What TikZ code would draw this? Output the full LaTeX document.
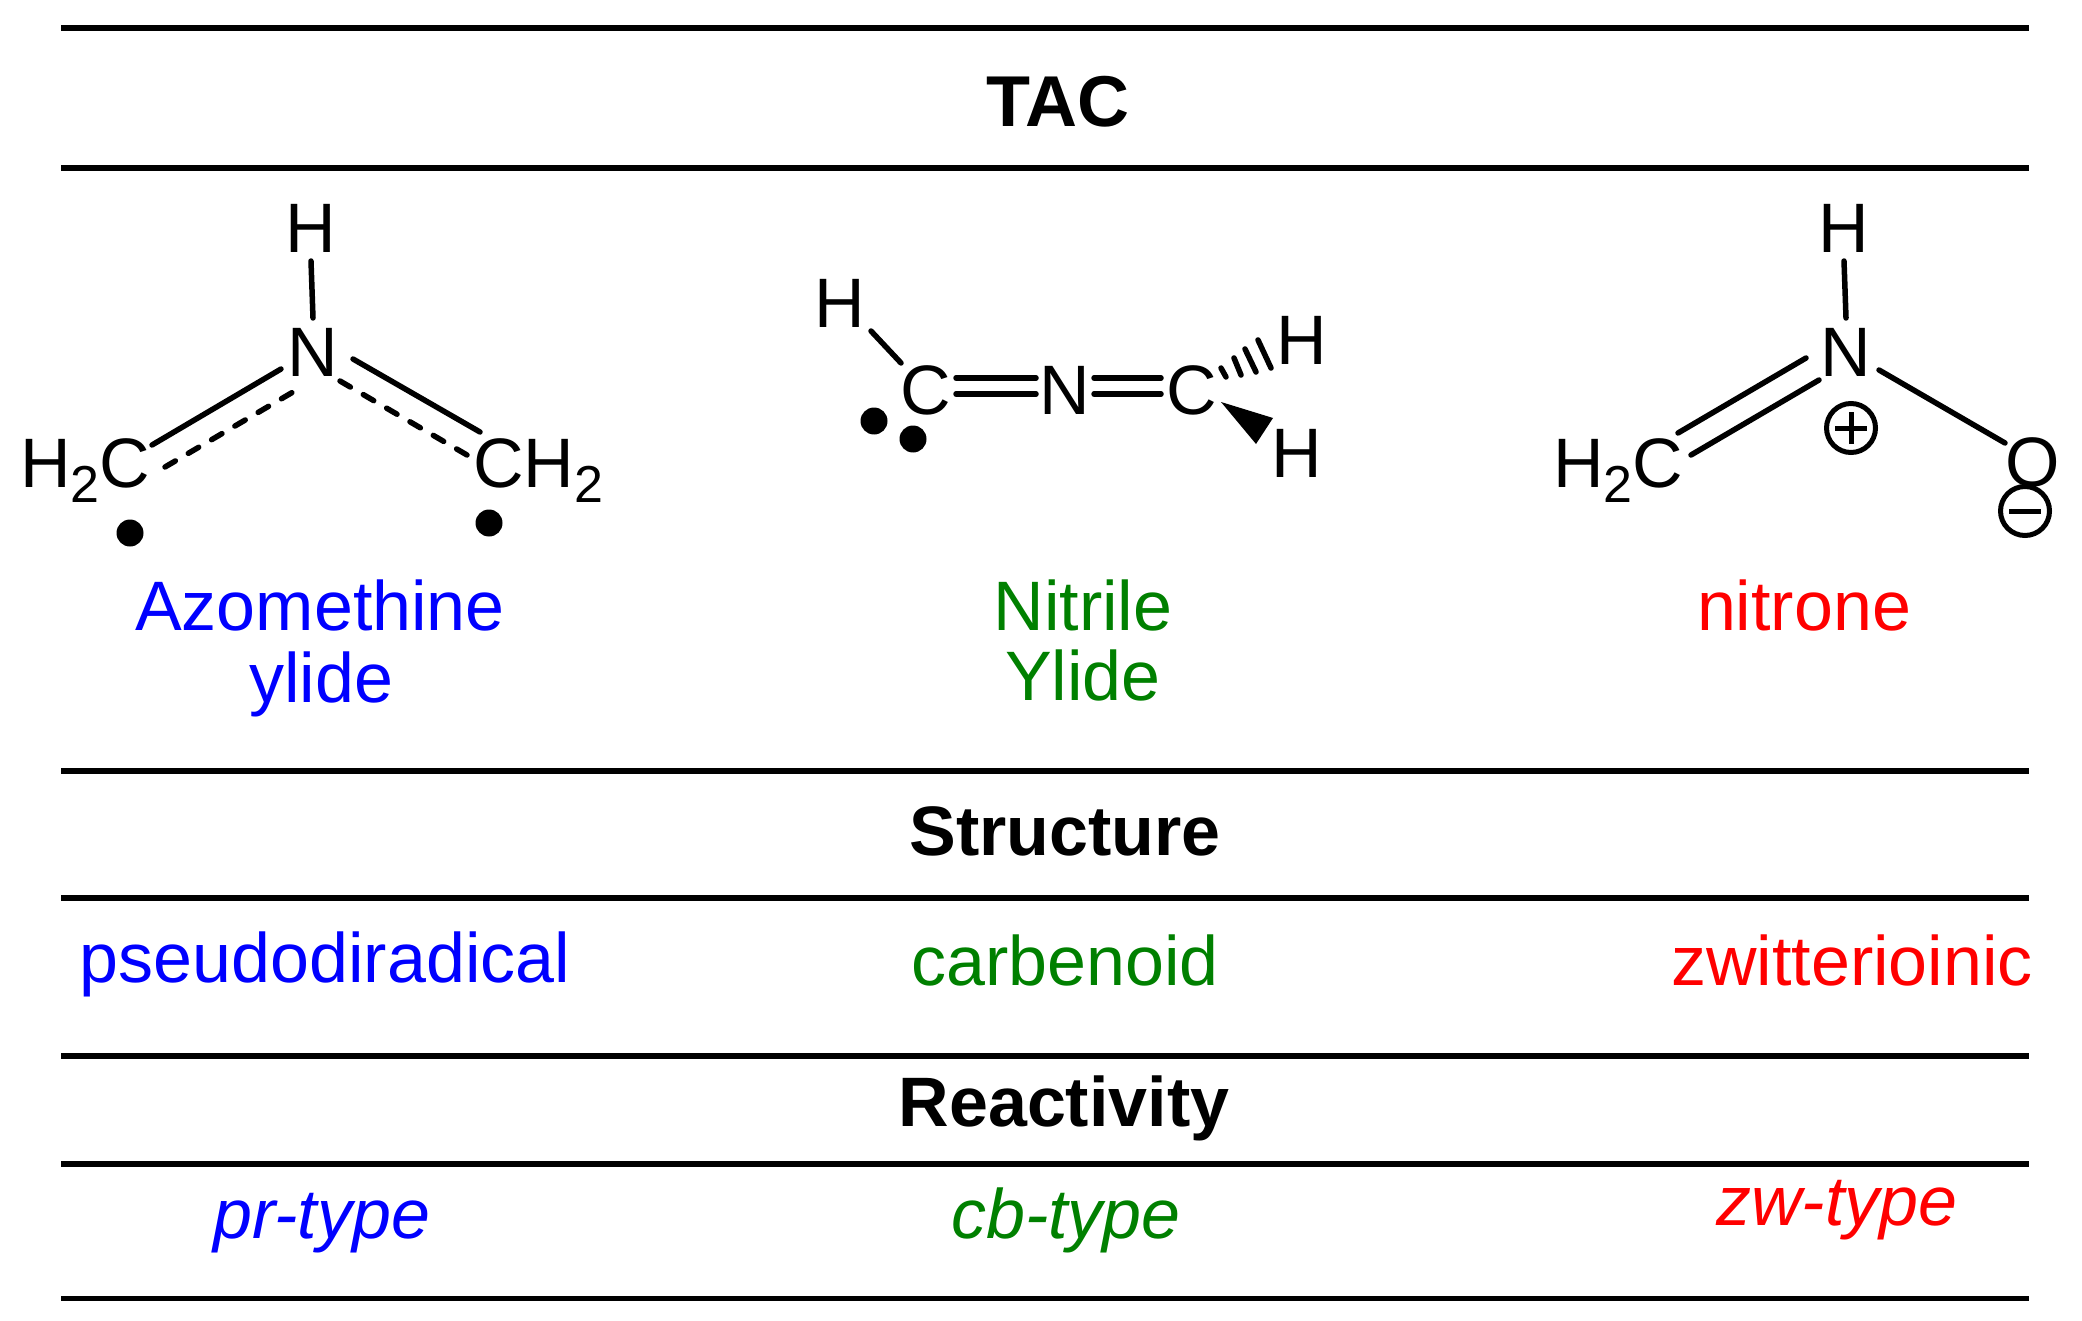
\documentclass[tikz,border=0pt]{standalone}
\usepackage{fontspec}
\setmainfont{Liberation Sans}
\newcommand{\subtwo}{\raisebox{-15pt}{\fontsize{52}{52}\selectfont 2}}
\tikzset{
  rule/.style={line width=5.5pt},
  bond/.style={line width=5.5pt,line cap=round},
  dashbond/.style={line width=5.5pt,line cap=round,dash pattern=on 12pt off 15pt},
  atom/.style={inner sep=0pt,outer sep=0pt,font=\fontsize{70}{70}\selectfont,text=black,anchor=base},
  head/.style={inner sep=0pt,outer sep=0pt,font=\fontsize{70}{70}\selectfont\bfseries,text=black,anchor=base},
  lab/.style={inner sep=0pt,outer sep=0pt,font=\fontsize{70}{70}\selectfont,anchor=base,align=center},
  ilab/.style={lab,font=\fontsize{70}{70}\selectfont\itshape},
  radical/.style={circle,fill=black,inner sep=0pt,outer sep=0pt,minimum size=27pt},
  charge/.style={circle,draw=black,line width=5pt,inner sep=0pt,outer sep=0pt,minimum size=49pt},
  sign/.style={line width=5pt},
}
\definecolor{cblue}{RGB}{0,0,255}
\definecolor{cgreen}{RGB}{0,128,0}
\definecolor{cred}{RGB}{255,0,0}
\begin{document}
\begin{tikzpicture}[x=1pt,y=-1pt]
\useasboundingbox (0,0) rectangle (2082,1321);
% rules
\foreach \n/\y in {a/28,b/168,c/771,d/898,e/1056,f/1164,g/1298.5}{
  \coordinate (r\n l) at (61,\y);
  \coordinate (r\n r) at (2029,\y);
  \draw[rule] (r\n l) -- (r\n r);
}
% headings
\node[head,font=\fontsize{72}{72}\selectfont\bfseries] (tac) at (1058,127) {TAC};
\node[head] (structure) at (1065,855) {Structure};
\node[head] (reactivity) at (1064,1126) {Reactivity};
% molecule 1
\node[atom] (m1h) at (311,253) {H};
\node[atom] (m1n) at (313,377) {N};
\node[atom,anchor=base west] (m1l) at (20,487) {H\subtwo C};
\node[atom,anchor=base west] (m1r) at (473,487) {CH\subtwo};
\node[radical] (m1d1) at (130,533) {};
\node[radical] (m1d2) at (489,523) {};
\coordinate (a1) at (311,261); \coordinate (a2) at (313,318);
\coordinate (a3) at (152,445); \coordinate (a4) at (281,369);
\coordinate (a5) at (165,467); \coordinate (a6) at (293,392);
\coordinate (a7) at (353,359); \coordinate (a8) at (480,432);
\coordinate (a9) at (340,381); \coordinate (a10) at (467,455);
\draw[bond] (a1) -- (a2);
\draw[bond] (a3) -- (a4);
\draw[dashbond] (a5) -- (a6);
\draw[bond] (a7) -- (a8);
\draw[dashbond] (a9) -- (a10);
% molecule 2
\node[atom] (m2h) at (840,328) {H};
\node[atom] (m2c1) at (926,414) {C};
\node[atom] (m2n) at (1065,414) {N};
\node[atom] (m2c2) at (1192,414) {C};
\node[atom] (m2h2) at (1302,364) {H};
\node[atom] (m2h3) at (1297,477) {H};
\node[radical] (m2d1) at (874,421) {};
\node[radical] (m2d2) at (913,439) {};
\coordinate (b1) at (871,331); \coordinate (b2) at (901,363);
\coordinate (b3) at (956,378); \coordinate (b4) at (1036,378);
\coordinate (b5) at (956,394); \coordinate (b6) at (1036,394);
\coordinate (b7) at (1094,378); \coordinate (b8) at (1161,378);
\coordinate (b9) at (1094,394); \coordinate (b10) at (1161,394);
\draw[bond] (b1) -- (b2);
\draw[bond] (b3) -- (b4);
\draw[bond] (b5) -- (b6);
\draw[bond] (b7) -- (b8);
\draw[bond] (b9) -- (b10);
\foreach \i/\xa/\ya/\xb/\yb in {1/1221/368/1226/377,2/1234/358/1241/375,3/1245/349/1256/372,4/1258/340/1271/368}{
  \coordinate (hs\i a) at (\xa,\ya);
  \coordinate (hs\i b) at (\xb,\yb);
  \draw[bond] (hs\i a) -- (hs\i b);
}
\coordinate (w1) at (1221,402); \coordinate (w2) at (1273,418); \coordinate (w3) at (1256,444);
\fill[black] (w1) -- (w2) -- (w3) -- cycle;
% molecule 3
\node[atom] (m3h) at (1844,253) {H};
\node[atom] (m3n) at (1846,377) {N};
\node[atom,anchor=base west] (m3l) at (1553,487) {H\subtwo C};
\node[atom] (m3o) at (2033,486) {O};
\node[charge] (m3p) at (1851,428) {};
\node[charge] (m3m) at (2025,511) {};
\coordinate (c1) at (1844,261); \coordinate (c2) at (1846,318);
\coordinate (c3) at (1678,433); \coordinate (c4) at (1806,358);
\coordinate (c5) at (1691,455); \coordinate (c6) at (1819,380);
\coordinate (c7) at (1879,370); \coordinate (c8) at (2005,443);
\draw[bond] (c1) -- (c2);
\draw[bond] (c3) -- (c4);
\draw[bond] (c5) -- (c6);
\draw[bond] (c7) -- (c8);
\draw[sign] ([xshift=-16pt]m3p.center) -- ([xshift=16pt]m3p.center);
\draw[sign] ([yshift=-16pt]m3p.center) -- ([yshift=16pt]m3p.center);
\draw[sign] ([xshift=-16pt]m3m.center) -- ([xshift=16pt]m3m.center);
% colored labels
\node[lab,text=cblue] (azo) at (320,630) {Azomethine};
\node[lab,text=cblue] (yl1) at (321,702) {ylide};
\node[lab,text=cgreen] (nit) at (1083,630) {Nitrile};
\node[lab,text=cgreen] (yl2) at (1083,700) {Ylide};
\node[lab,text=cred] (nitrone) at (1804,630) {nitrone};
\node[lab,text=cblue] (pd) at (325,982) {pseudodiradical};
\node[lab,text=cgreen] (cb) at (1065,985) {carbenoid};
\node[lab,text=cred] (zw) at (1852,985) {zwitterioinic};
\node[ilab,text=cblue] (pr) at (322,1238) {pr-type};
\node[ilab,text=cgreen] (cbt) at (1066,1238) {cb-type};
\node[ilab,text=cred] (zwt) at (1837,1225) {zw-type};
\end{tikzpicture}
\end{document}
